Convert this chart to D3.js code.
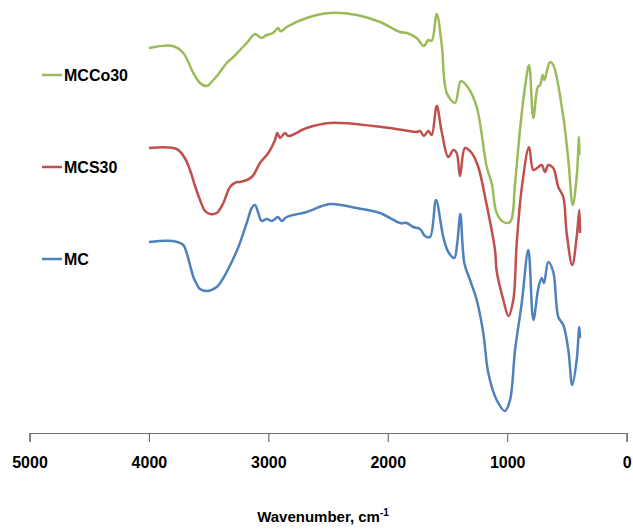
<!DOCTYPE html>
<html>
<head>
<meta charset="utf-8">
<script src="https://cdn.jsdelivr.net/npm/d3@7"></script>
<style>
  body { margin: 0; background: #fff; }
  text { font-family: "Liberation Sans", Arial, sans-serif; }
</style>
</head>
<body>
<div id="chart"></div>
<script>

// series names, top to bottom in the legend
const seriesNames = ['MCCo30', 'MCS30', 'MC']
const seriesColors = ['#9bbb59', '#c0504d', '#4f81bd']

// x tick values (wavenumber, cm-1)
const xTicks = [5000, 4000, 3000, 2000, 1000, 0]

// spectra: [wavenumber, transmittance (a.u., offset)]
const mcco30 = [
  [4000,385],[3800,387],[3712,380],[3628,360],[3572,350],[3516,347],[3461,353],
  [3405,361],[3349,370],[3293,376],[3237,383],[3181,390],[3112,399],[3084,397],
  [3056,395],[3014,398],[2961,400],[2919,405],[2900,402],[2888,402],[2846,406],
  [2679,415],[2484,420],[2260,418],[2065,411],[1897,401],[1841,400],[1758,395],
  [1697,387],[1660,393],[1632,392],[1590,419],[1548,388],[1506,340],[1437,330],
  [1387,352],[1325,345],[1255,326],[1171,266],[1130,250],[1088,220],[1032,211],
  [976,211],[934,250],[893,303],[851,346],[817,368],[781,315],[744,346],[725,348],
  [702,358],[689,353],[641,371],[614,368],[530,316],[488,273],[451,228],[418,256],
  [398,296],[396,278]
]

const mcs30 = [
  [4000,285],[3767,284],[3700,275],[3656,263],[3614,247],[3572,233],[3530,222],
  [3488,219],[3432,220],[3377,230],[3321,246],[3265,251],[3237,251],[3139,256],
  [3070,270],[3000,280],[2944,293],[2925,300],[2902,295],[2860,300],[2833,297],
  [2679,305],[2484,310],[2121,307],[1870,303],[1758,301],[1730,302],[1697,297],
  [1660,302],[1632,298],[1590,327],[1548,301],[1493,276],[1451,283],[1423,280],
  [1395,257],[1353,285],[1297,280],[1242,266],[1180,233],[1102,183],[1088,162],
  [1032,133],[990,117],[949,133],[920,190],[878,245],[817,286],[781,263],[739,266],
  [711,268],[683,261],[656,268],[614,265],[572,246],[530,236],[502,200],[455,168],
  [418,196],[396,223],[390,200]
]

const mc = [
  [4000,191],[3800,192],[3712,188],[3684,180],[3656,168],[3628,156],[3600,149],
  [3572,144],[3516,142],[3432,146],[3377,155],[3307,171],[3251,186],[3181,210],
  [3139,225],[3112,228],[3084,220],[3056,212],[3014,214],[2972,212],[2944,214],
  [2919,216],[2888,212],[2846,216],[2679,221],[2484,229],[2260,225],[2065,220],
  [1897,210],[1841,210],[1786,206],[1730,204],[1688,197],[1646,196],[1596,233],
  [1535,196],[1493,181],[1443,175],[1418,190],[1392,219],[1359,170],[1311,153],
  [1255,133],[1200,100],[1158,60],[1088,33],[1018,22],[976,33],[934,83],[878,130],
  [823,183],[781,113],[739,145],[711,155],[692,150],[656,171],[614,161],[572,116],
  [530,108],[488,83],[455,48],[418,73],[396,106],[390,95]
]

const allSeries = [mcco30, mcs30, mc]

// chart setting
const chart = {
  'width' : 633,
  'height' : 531,
  'left' : 29.5,
  'right' : 626.6,
  'bottom' : 433
}

function createChart (){

    const xScale = d3.scaleLinear()
        .domain([5000, 0])
        .range([chart.left, chart.right])

    const yScale = d3.scaleLinear()
        .domain([0, chart.bottom])
        .range([chart.bottom, 0])

    const svg = d3.select('#chart')
        .append('svg')
            .attr('width', chart.width)
            .attr('height', chart.height)

    // x axis
    const xAxis = d3.axisBottom(xScale)
        .tickValues(xTicks)
        .tickFormat(d3.format('d'))
        .tickSize(9)
        .tickSizeOuter(9)
        .tickPadding(15)

    const gx = svg.append('g')
        .attr('transform', `translate(0,${chart.bottom})`)
        .call(xAxis)

    gx.select('.domain').attr('stroke', '#6f6f6f').attr('stroke-width', 1.2)
    gx.selectAll('.tick line').attr('stroke', '#6f6f6f').attr('stroke-width', 1.2)
    gx.selectAll('.tick text')
        .attr('fill', '#000')
        .style('font-size', '16px')
        .style('font-weight', 'bold')

    // axis title
    const title = svg.append('text')
        .attr('x', 323)
        .attr('y', 522)
        .attr('text-anchor', 'middle')
        .style('font-size', '15px')
        .style('font-weight', 'bold')
    title.append('tspan').text('Wavenumber, cm')
    title.append('tspan')
        .attr('dy', -6)
        .style('font-size', '10px')
        .text('-1')

    // lines
    const line = d3.line()
        .x(d => xScale(d[0]))
        .y(d => yScale(d[1]))
        .curve(d3.curveCatmullRom.alpha(0.5))

    svg.selectAll('path.spectrum')
        .data(allSeries)
        .join('path')
            .attr('class', 'spectrum')
            .attr('d', line)
            .attr('fill', 'none')
            .attr('stroke', (d, i) => seriesColors[i])
            .attr('stroke-width', 2.5)
            .attr('stroke-linejoin', 'round')

    // legend
    const legend = svg.selectAll('g.legend')
        .data(seriesNames)
        .join('g')
            .attr('class', 'legend')
            .attr('transform', (d, i) => `translate(42,${75 + i * 92})`)

    legend.append('line')
        .attr('x1', 0)
        .attr('x2', 20)
        .attr('stroke', (d, i) => seriesColors[i])
        .attr('stroke-width', 2.5)

    legend.append('text')
        .attr('x', 22)
        .attr('y', 6)
        .style('font-size', '16px')
        .style('font-weight', 'bold')
        .text(d => d)
}

createChart()
</script>
</body>
</html>
